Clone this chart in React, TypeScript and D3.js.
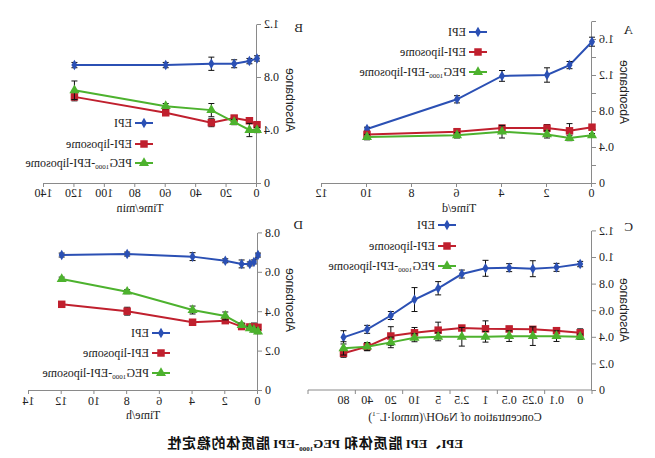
import * as d3 from "d3";
import { useEffect, useRef } from "react";

// panel A: absorbance vs storage time (days)
const timeA = [0, 1, 2, 4, 6, 10];
const epiA = [1.57, 1.31, 1.2, 1.19, 0.93, 0.6];
const epiAErr = [0.05, 0.04, 0.08, 0.06, 0.04, 0.02];
const lipoA = [0.62, 0.58, 0.61, 0.61, 0.57, 0.54];
const lipoAErr = [0.03, 0.08, 0.04, 0.03, 0.03, 0.02];
const pegA = [0.53, 0.5, 0.54, 0.57, 0.53, 0.51];
const pegAErr = [0.02, 0.03, 0.04, 0.07, 0.03, 0.03];

// panel B: time (min)
const timeB = [0, 5, 15, 30, 60, 120];
const epiB = [0.94, 0.92, 0.9, 0.9, 0.89, 0.89];
const epiBErr = [0.02, 0.02, 0.03, 0.05, 0.02, 0.02];
const lipoB = [0.44, 0.47, 0.49, 0.455, 0.53, 0.65];
const lipoBErr = [0.02, 0.02, 0.02, 0.03, 0.02, 0.03];
const pegB = [0.4, 0.4, 0.46, 0.55, 0.58, 0.7];
const pegBErr = [0.02, 0.05, 0.02, 0.05, 0.02, 0.07];

// panel C: NaOH concentration (categories)
const concC = ["0", "0.1", "0.25", "0.5", "1", "2.5", "5", "10", "20", "40", "80"];
const epiC = [0.947, 0.922, 0.912, 0.92, 0.915, 0.872, 0.765, 0.68, 0.56, 0.456, 0.396];
const epiCErr = [0.02, 0.03, 0.06, 0.03, 0.06, 0.03, 0.05, 0.09, 0.03, 0.03, 0.05];
const lipoC = [0.43, 0.446, 0.456, 0.459, 0.46, 0.466, 0.45, 0.43, 0.406, 0.326, 0.276];
const lipoCErr = [0.03, 0.02, 0.02, 0.02, 0.06, 0.01, 0.06, 0.04, 0.07, 0.03, 0.03];
const pegC = [0.4, 0.405, 0.405, 0.405, 0.4, 0.4, 0.4, 0.393, 0.358, 0.326, 0.313];
const pegCErr = [0.02, 0.04, 0.07, 0.04, 0.04, 0.07, 0.03, 0.03, 0.04, 0.03, 0.05];

// panel D: time (h)
const timeD = [0, 0.25, 0.5, 1, 2, 4, 8, 12];
const epiD = [0.685, 0.65, 0.64, 0.64, 0.656, 0.677, 0.69, 0.685];
const epiDErr = [0.01, 0.01, 0.01, 0.02, 0.01, 0.02, 0.01, 0.01];
const lipoD = [0.318, 0.32, 0.32, 0.322, 0.352, 0.344, 0.4, 0.435];
const lipoDErr = [0.01, 0.02, 0.01, 0.01, 0.01, 0.01, 0.02, 0.01];
const pegD = [0.296, 0.305, 0.313, 0.33, 0.376, 0.406, 0.499, 0.563];
const pegDErr = [0.01, 0.01, 0.01, 0.01, 0.02, 0.02, 0.01, 0.01];

const W = 655;
const H = 458;
const axisColor = "#8a8a8a";
const serif = "'Liberation Serif', 'Times New Roman', serif";
const sans = "'Liberation Sans', Arial, sans-serif";
const colors = { epi: "#2b50b4", lipo: "#c0202e", peg: "#4db22e" };

type Sel = d3.Selection<SVGGElement, unknown, null, undefined>;

const fmt = (d: number) => (d === 0 ? "0" : d3.format(".1f")(d));

function styleAxis(g: Sel) {
  g.attr("font-size", 12).attr("font-family", serif);
  g.select(".domain").attr("stroke", axisColor);
  g.selectAll(".tick line").attr("stroke", axisColor);
  g.selectAll(".tick text").attr("fill", "#222");
}

function symbolFor(kind: "epi" | "lipo" | "peg") {
  if (kind === "epi") return d3.symbol(d3.symbolDiamond, 32)()!;
  if (kind === "lipo") return d3.symbol(d3.symbolSquare, 56)()!;
  return d3.symbol(d3.symbolTriangle, 44)()!;
}

function drawSeries(
  g: Sel,
  xs: number[],
  y: d3.ScaleLinear<number, number>,
  vals: number[],
  errs: number[],
  color: string,
  kind: "epi" | "lipo" | "peg",
) {
  const pts = vals.map((v, i) => [xs[i], y(v)] as [number, number]);
  g.append("path")
    .attr("d", d3.line()(pts))
    .attr("fill", "none")
    .attr("stroke", color)
    .attr("stroke-width", 2);
  vals.forEach((v, i) => {
    const x = xs[i];
    const y1 = y(v + errs[i]);
    const y2 = y(v - errs[i]);
    const eb = g.append("g").attr("stroke", "#111").attr("stroke-width", 1);
    eb.append("line").attr("x1", x).attr("x2", x).attr("y1", y1).attr("y2", y2);
    eb.append("line").attr("x1", x - 3).attr("x2", x + 3).attr("y1", y1).attr("y2", y1);
    eb.append("line").attr("x1", x - 3).attr("x2", x + 3).attr("y1", y2).attr("y2", y2);
  });
  g.selectAll(null)
    .data(pts)
    .enter()
    .append("path")
    .attr("transform", (d) => `translate(${d[0]},${d[1]})`)
    .attr("d", symbolFor(kind))
    .attr("fill", color);
}

function drawLegend(g: Sel, x: number, ys: number[]) {
  const rows: ["epi" | "lipo" | "peg", string][] = [
    ["epi", "EPI"],
    ["lipo", "EPI-liposome"],
    ["peg", "PEG"],
  ];
  rows.forEach(([k, name], i) => {
    const y = ys[i];
    g.append("line")
      .attr("x1", x)
      .attr("x2", x + 18)
      .attr("y1", y)
      .attr("y2", y)
      .attr("stroke", colors[k])
      .attr("stroke-width", 2);
    g.append("path")
      .attr("transform", `translate(${x + 9},${y})`)
      .attr("d", symbolFor(k))
      .attr("fill", colors[k]);
    const t = g
      .append("text")
      .attr("x", x + 21)
      .attr("y", y + 4)
      .attr("font-family", serif)
      .attr("font-size", 12)
      .attr("fill", "#222");
    t.append("tspan").text(name);
    if (k === "peg") {
      t.append("tspan").attr("font-size", 7).attr("dy", 2).text("1000");
      t.append("tspan").attr("dy", -2).text("-EPI-liposome");
    }
  });
}

function yTitle(g: Sel, x: number, y: number) {
  g.append("text")
    .attr("transform", `translate(${x},${y}) rotate(-90)`)
    .attr("text-anchor", "middle")
    .attr("font-family", sans)
    .attr("font-size", 12)
    .attr("fill", "#222")
    .text("Absorbance");
}

function label(g: Sel, x: number, y: number, s: string, font = serif, size = 13) {
  return g
    .append("text")
    .attr("x", x)
    .attr("y", y)
    .attr("font-family", font)
    .attr("font-size", size)
    .attr("fill", "#222")
    .text(s);
}

export default function App() {
  const svgRef = useRef<SVGSVGElement | null>(null);

  useEffect(() => {
    if (!svgRef.current) return;
    const svg = d3.select(svgRef.current);
    svg.selectAll("*").remove();
    svg.append("rect").attr("width", W).attr("height", H).attr("fill", "#fff");
    // the source figure is mirrored left-right
    const root = svg.append("g").attr("transform", `translate(${W},0) scale(-1,1)`) as Sel;

    // ---- A ----
    {
      const g = root.append("g") as Sel;
      const x = d3.scaleLinear().domain([0, 12]).range([63, 333]);
      const y = d3.scaleLinear().domain([0, 1.8]).range([183, 21]);
      g.append("g")
        .attr("transform", "translate(0,183)")
        .call(d3.axisBottom(x).tickValues(d3.range(0, 13, 2)).tickSize(4).tickSizeOuter(0).tickPadding(1))
        .call(styleAxis);
      g.append("g")
        .attr("transform", "translate(63,0)")
        .call(
          d3
            .axisLeft(y)
            .tickValues(d3.range(0, 10).map((i) => i * 0.2))
            .tickSize(4)
            .tickSizeOuter(0)
            .tickPadding(3)
            .tickFormat((d) => (Math.round(+d * 10) % 4 === 0 ? fmt(+d) : "")),
        )
        .call(styleAxis);
      const xs = timeA.map((t) => x(t));
      drawSeries(g, xs, y, epiA, epiAErr, colors.epi, "epi");
      drawSeries(g, xs, y, lipoA, lipoAErr, colors.lipo, "lipo");
      drawSeries(g, xs, y, pegA, pegAErr, colors.peg, "peg");
      drawLegend(g, 168, [32, 52, 72]);
      yTitle(g, 35, 92);
      label(g, 196, 212, "Time/d", serif, 12).attr("text-anchor", "middle");
      label(g, 22, 34, "A");
    }

    // ---- B ----
    {
      const g = root.append("g") as Sel;
      const x = d3.scaleLinear().domain([0, 140]).range([398, 611]);
      const y = d3.scaleLinear().domain([0, 1.2]).range([183, 24]);
      g.append("g")
        .attr("transform", "translate(0,183)")
        .call(d3.axisBottom(x).tickValues(d3.range(0, 141, 20)).tickSize(4).tickSizeOuter(0).tickPadding(1))
        .call(styleAxis);
      g.append("g")
        .attr("transform", "translate(398,0)")
        .call(d3.axisLeft(y).tickValues([0, 0.4, 0.8, 1.2]).tickSize(4).tickSizeOuter(0).tickPadding(3).tickFormat((d) => fmt(+d)))
        .call(styleAxis);
      const xs = timeB.map((t) => x(t));
      drawSeries(g, xs, y, epiB, epiBErr, colors.epi, "epi");
      drawSeries(g, xs, y, lipoB, lipoBErr, colors.lipo, "lipo");
      drawSeries(g, xs, y, pegB, pegBErr, colors.peg, "peg");
      drawLegend(g, 502, [123, 144, 163]);
      yTitle(g, 369, 100);
      label(g, 515, 212, "Time/min", serif, 12).attr("text-anchor", "middle");
      label(g, 352, 32, "B");
    }

    // ---- C ----
    {
      const g = root.append("g") as Sel;
      const slots = [...concC, ""];
      const x = d3.scaleBand().domain(slots).range([63, 347]).padding(0);
      const y = d3.scaleLinear().domain([0, 1.2]).range([390, 230.4]);
      const bw = x.bandwidth();
      const ax = g.append("g").attr("transform", "translate(0,390)");
      ax.append("line").attr("x1", 63).attr("x2", 347).attr("stroke", axisColor);
      d3.range(0, 13, 2).forEach((k) => {
        const px = 63 + k * bw;
        ax.append("line").attr("x1", px).attr("x2", px).attr("y1", 0).attr("y2", 4).attr("stroke", axisColor);
      });
      concC.forEach((c) => {
        ax.append("text")
          .attr("x", x(c)! + bw / 2)
          .attr("y", 14)
          .attr("text-anchor", "middle")
          .attr("font-family", serif)
          .attr("font-size", 12)
          .attr("fill", "#222")
          .text(c);
      });
      g.append("g")
        .attr("transform", "translate(63,0)")
        .call(d3.axisLeft(y).tickValues(d3.range(0, 7).map((i) => i * 0.2)).tickSize(4).tickSizeOuter(0).tickPadding(3).tickFormat((d) => fmt(+d)))
        .call(styleAxis);
      const xs = concC.map((c) => x(c)! + bw / 2);
      drawSeries(g, xs, y, epiC, epiCErr, colors.epi, "epi");
      drawSeries(g, xs, y, lipoC, lipoCErr, colors.lipo, "lipo");
      drawSeries(g, xs, y, pegC, pegCErr, colors.peg, "peg");
      drawLegend(g, 199, [225, 246, 266]);
      yTitle(g, 35, 310);
      const t = label(g, 200, 421, "Concentration of NaOH/(mmol·L", serif, 12).attr("text-anchor", "middle");
      t.append("tspan").attr("font-size", 7).attr("dy", -5).text("−1");
      t.append("tspan").attr("dy", 5).text(")");
      label(g, 22, 231, "C");
    }

    // ---- D ----
    {
      const g = root.append("g") as Sel;
      const x = d3.scaleLinear().domain([0, 14]).range([397, 626]);
      const y = d3.scaleLinear().domain([0, 0.8]).range([390, 232.4]);
      g.append("g")
        .attr("transform", "translate(0,390)")
        .call(d3.axisBottom(x).tickValues(d3.range(0, 15, 2)).tickSize(4).tickSizeOuter(0).tickPadding(2))
        .call(styleAxis);
      g.append("g")
        .attr("transform", "translate(397,0)")
        .call(d3.axisLeft(y).tickValues([0, 0.2, 0.4, 0.6, 0.8]).tickSize(4).tickSizeOuter(0).tickPadding(3).tickFormat((d) => fmt(+d)))
        .call(styleAxis);
      const xs = timeD.map((t) => x(t));
      drawSeries(g, xs, y, epiD, epiDErr, colors.epi, "epi");
      drawSeries(g, xs, y, lipoD, lipoDErr, colors.lipo, "lipo");
      drawSeries(g, xs, y, pegD, pegDErr, colors.peg, "peg");
      drawLegend(g, 485, [333, 353, 373]);
      yTitle(g, 369, 300);
      label(g, 512, 419, "Time/h", serif, 12).attr("text-anchor", "middle");
      label(g, 352, 229, "D");
    }

    // caption
    const cjk = "'Noto Sans CJK SC', sans-serif";
    const cap = root
      .append("text")
      .attr("x", 192)
      .attr("y", 448)
      .attr("font-family", serif)
      .attr("font-weight", "bold")
      .attr("font-size", 13)
      .attr("fill", "#111");
    cap.append("tspan").text("EPI");
    cap.append("tspan").attr("font-family", cjk).attr("font-size", 14).text("、");
    cap.append("tspan").text("EPI ");
    cap.append("tspan").attr("font-family", cjk).attr("font-size", 14).attr("letter-spacing", 0.8).text("脂质体和");
    cap.append("tspan").text(" PEG");
    cap.append("tspan").attr("font-size", 7).attr("dy", 3).text("1000");
    cap.append("tspan").attr("dy", -3).text("-EPI ");
    cap.append("tspan").attr("font-family", cjk).attr("font-size", 14).attr("letter-spacing", 0.8).text("脂质体的稳定性");
  }, []);

  return (
    <svg
      ref={svgRef}
      width={W}
      height={H}
      style={{ position: "absolute", left: 0, top: 0, display: "block" }}
    />
  );
}
